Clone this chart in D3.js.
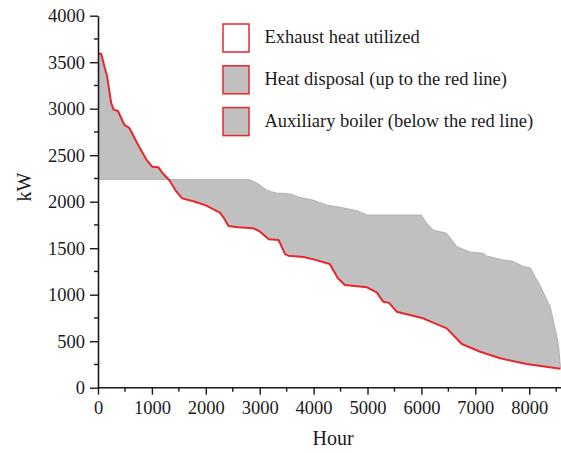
<!DOCTYPE html>
<html>
<head>
<meta charset="utf-8">
<script src="https://cdn.jsdelivr.net/npm/d3@7"></script>
<style>
  html, body { margin: 0; padding: 0; background: #fff; }
  svg { display: block; font-family: "Liberation Serif", "Times New Roman", serif; }
</style>
</head>
<body>
<svg id="chart" width="561" height="453"></svg>
<script>
// Exhaust heat available from the engine (red line), hours sorted by load
const exhaustHours = [0, 60, 120, 165, 245, 290, 370, 490, 580, 740, 900, 1010, 1120, 1210, 1320, 1440, 1560, 1800, 2000, 2260, 2330, 2420, 2600, 2880, 3000, 3170, 3350, 3470, 3530, 3810, 4000, 4300, 4450, 4580, 4990, 5170, 5290, 5400, 5540, 6030, 6470, 6750, 7090, 7460, 7950, 8580];
const exhaustKW    = [3590, 3590, 3450, 3360, 3060, 2990, 2975, 2825, 2795, 2615, 2450, 2375, 2370, 2300, 2233, 2120, 2036, 2000, 1960, 1882, 1830, 1739, 1725, 1714, 1680, 1596, 1588, 1436, 1420, 1405, 1380, 1330, 1176, 1104, 1080, 1025, 925, 912, 817, 746, 638, 470, 387, 316, 255, 205];

// Heat demand (upper edge of the grey band on the right)
const demandHours = [0, 2760, 2820, 2950, 3130, 3220, 3320, 3440, 3560, 3720, 3990, 4240, 4500, 4740, 4800, 4990, 5600, 6000, 6100, 6220, 6470, 6660, 6900, 7150, 7210, 7520, 7700, 7900, 8020, 8200, 8390, 8510, 8545, 8580];
const demandKW    = [2240, 2240, 2235, 2200, 2126, 2108, 2092, 2090, 2083, 2050, 2017, 1965, 1940, 1911, 1905, 1857, 1857, 1857, 1768, 1696, 1660, 1516, 1460, 1445, 1416, 1373, 1360, 1301, 1290, 1100, 870, 560, 450, 215];

const yTicks = [0, 500, 1000, 1500, 2000, 2500, 3000, 3500, 4000];
const xTicks = [0, 1000, 2000, 3000, 4000, 5000, 6000, 7000, 8000];

const legendLabels = [
  "Exhaust heat utilized",
  "Heat disposal (up to the red line)",
  "Auxiliary boiler (below the red line)"
];

const RED = "#e8262c";
const GREY = "#c0c0c0";
const INK = "#1a1a1a";

const svg = d3.select("#chart");
const x = d3.scaleLinear().domain([0, 8580]).range([98, 560.5]);
const y = d3.scaleLinear().domain([0, 4000]).range([387.7, 15.7]);

const exhaust = exhaustHours.map((h, i) => [h, exhaustKW[i]]);
const demand = demandHours.map((h, i) => [h, demandKW[i]]);

const line = d3.line().x(d => x(d[0])).y(d => y(d[1]));

// grey band between demand and exhaust heat
const band = demand.concat(exhaust.slice().reverse());
svg.append("path")
  .attr("d", line(band) + "Z")
  .attr("fill", GREY)
  .attr("stroke", "none");

svg.append("path")
  .attr("d", line(demand))
  .attr("fill", "none")
  .attr("stroke", "#a8a8a8")
  .attr("stroke-width", 0.8);

svg.append("path")
  .attr("d", line(exhaust))
  .attr("fill", "none")
  .attr("stroke", RED)
  .attr("stroke-width", 2)
  .attr("stroke-linejoin", "round");

// axes
const fmt = d3.format("d");
const yAxis = d3.axisLeft(y).tickValues(yTicks).tickFormat(fmt).tickSize(8).tickSizeOuter(0).tickPadding(5);
const gy = svg.append("g").attr("transform", "translate(98,0)").call(yAxis);
const xAxis = d3.axisBottom(x).tickValues(xTicks).tickFormat(fmt).tickSize(7).tickSizeOuter(0).tickPadding(6);
const gx = svg.append("g").attr("transform", "translate(0,387.7)").call(xAxis);

[gx, gy].forEach(g => {
  g.select(".domain").attr("stroke", INK).attr("stroke-width", 1.6);
  g.selectAll(".tick line").attr("stroke", INK).attr("stroke-width", 1.4);
  g.selectAll(".tick text")
    .attr("fill", INK)
    .style("font-family", "'Liberation Serif', 'Times New Roman', serif")
    .style("font-size", "18.5px");
});
gx.select(".domain").attr("d", `M${x(0)},0H561`);

// minor ticks
const yMinor = d3.range(250, 4000, 500);
svg.append("g").selectAll("line").data(yMinor).join("line")
  .attr("x1", 98).attr("x2", 94)
  .attr("y1", d => y(d)).attr("y2", d => y(d))
  .attr("stroke", INK).attr("stroke-width", 1.4);
const xMinor = d3.range(500, 8580, 1000);
svg.append("g").selectAll("line").data(xMinor).join("line")
  .attr("x1", d => x(d)).attr("x2", d => x(d))
  .attr("y1", 387.7).attr("y2", 391.7)
  .attr("stroke", INK).attr("stroke-width", 1.4);

// axis titles
svg.append("text")
  .attr("transform", "translate(31,187) rotate(-90)")
  .attr("text-anchor", "middle")
  .style("font-size", "20px")
  .attr("fill", INK)
  .text("kW");
svg.append("text")
  .attr("x", 333).attr("y", 445)
  .attr("text-anchor", "middle")
  .style("font-size", "20px")
  .attr("fill", INK)
  .text("Hour");

// legend
const legend = svg.append("g");
const rows = legend.selectAll("g").data(legendLabels).join("g")
  .attr("transform", (d, i) => `translate(223,${24 + i * 41.8})`);
rows.append("rect")
  .attr("width", 26).attr("height", 28)
  .attr("fill", (d, i) => i === 0 ? "#fff" : GREY)
  .attr("stroke", RED)
  .attr("stroke-width", 1.5);
rows.append("text")
  .attr("x", 41.5).attr("y", 19)
  .style("font-size", "18.5px")
  .attr("fill", INK)
  .text(d => d);
</script>
</body>
</html>
